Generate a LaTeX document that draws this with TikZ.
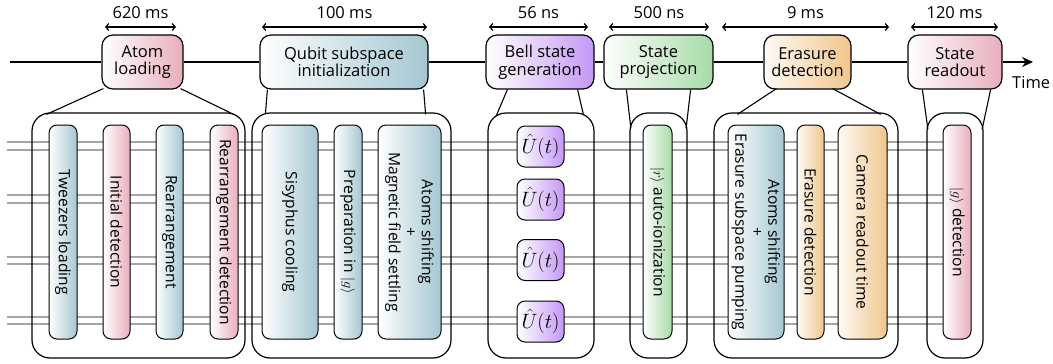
\documentclass[tikz,border=0pt]{standalone}
\usepackage{fontspec}
\setmainfont{Open Sans}
\usetikzlibrary{arrows.meta,calc}

\definecolor{pinkc}{RGB}{232,174,188}
\definecolor{bluec}{RGB}{164,199,210}
\definecolor{purpc}{RGB}{196,152,246}
\definecolor{greenc}{RGB}{166,219,166}
\definecolor{orangec}{RGB}{240,198,140}
\definecolor{wirec}{RGB}{165,165,165}

\tikzset{
  every node/.style={font=\fontsize{16.5}{17.5}\selectfont, inner sep=0pt},
  topbox/.style={draw, line width=1.2pt, rounded corners=11pt, align=center,
                 minimum height=54pt},
  panel/.style={draw, line width=1.2pt, rounded corners=18pt, minimum height=245pt},
  bar/.style={draw, line width=1pt, rounded corners=8pt, minimum height=214pt},
  ubox/.style={draw, line width=1pt, rounded corners=8pt, minimum width=47pt,
               minimum height=41pt, left color=white, right color=purpc},
  bartext/.style={rotate=-90, align=center, font=\fontsize{15.6}{16.5}\selectfont},
  wire/.style={draw=wirec, line width=1.1pt},
  link/.style={line width=1.1pt},
  dur/.style={line width=1.2pt,
     {Straight Barb[length=3pt,width=7pt]}-{Straight Barb[length=3pt,width=7pt]}},
}

\begin{document}
\begin{tikzpicture}[x=1pt,y=-1pt]
\useasboundingbox (0,0) rectangle (1053,364);

% qubit wires, in pairs
\foreach \ya/\yb in {142/150,195/203,257/264,317/324}{
  \draw[wire] (7,\ya) -- (950,\ya);
  \draw[wire] (7,\yb) -- (950,\yb);
}

% time axis end points
\coordinate (tl0) at (10,62);
\coordinate (tl1) at (1033,62);

% stage boxes on the time axis
\node[topbox, minimum width=81pt, left color=white, right color=pinkc]
  (A) at (142.5,62) {Atom\\loading};
\node[topbox, minimum width=168pt, left color=white, right color=bluec]
  (Q) at (344,62) {Qubit subspace\\initialization};
\node[topbox, minimum width=108pt, left color=white, right color=purpc]
  (B) at (540,62) {Bell state\\generation};
\node[topbox, minimum width=109pt, left color=white, right color=greenc]
  (S) at (658.5,62) {State\\projection};
\node[topbox, minimum width=87pt, left color=orangec!8, right color=orangec]
  (E) at (807.5,62) {Erasure\\detection};
\node[topbox, minimum width=94pt, left color=white, right color=pinkc]
  (R) at (955,62) {State\\readout};

% time axis
\draw[link] (tl0) -- (A.west);
\draw[link] (A.east) -- (Q.west);
\draw[link] (Q.east) -- (B.west);
\draw[link] (B.east) -- (S.west);
\draw[link] (S.east) -- (E.west);
\draw[link] (E.east) -- (R.west);
\draw[link, -{Stealth[length=11pt,width=10pt]}] (R.east) -- (tl1);
\node[anchor=west] (time) at (1012,83) {Time};

% durations
\foreach \n/\xa/\xb/\txt in {1/105/176/620 ms, 2/262/427/100 ms, 3/489/588/56 ns,
                             4/609/709/500 ns, 5/722/889/9 ms, 6/911/998/120 ms}{
  \coordinate (d\n a) at (\xa,27);
  \coordinate (d\n b) at (\xb,27);
  \draw[dur] (d\n a) -- (d\n b);
  \node (dl\n) at ($(d\n a)!0.5!(d\n b)+(0,-14)$) {\txt};
}

% detail panels
\node[panel, minimum width=213pt] (P1) at (138.5,235.5) {};
\node[panel, minimum width=199pt] (P2) at (351.5,235.5) {};
\node[panel, minimum width=106pt] (P3) at (541,235.5) {};
\node[panel, minimum width=57pt]  (P4) at (658.5,235.5) {};
\node[panel, minimum width=184pt] (P5) at (806,235.5) {};
\node[panel, minimum width=56pt]  (P6) at (955,235.5) {};

% zoom lines from stages to panels
\draw[link] ([shift={(2,-1)}]A.south west) -- ([shift={(15,2)}]P1.north west);
\draw[link] ([shift={(-3,-1)}]A.south east) -- ([shift={(-12,2)}]P1.north east);
\draw[link] ([shift={(8,0)}]Q.south west) -- ([shift={(14,2)}]P2.north west);
\draw[link] ([shift={(-5,0)}]Q.south east) -- ([shift={(-26,2)}]P2.north east);
\draw[link] ([shift={(22,0)}]B.south west) -- ([shift={(9,3)}]P3.north west);
\draw[link] ([shift={(-17,0)}]B.south east) -- ([shift={(-11,3)}]P3.north east);
\draw[link] ([shift={(23,0)}]S.south west) -- ([shift={(1.5,16)}]P4.north west);
\draw[link] ([shift={(-23,0)}]S.south east) -- ([shift={(-1.5,16)}]P4.north east);
\draw[link] ([shift={(13,-1)}]E.south west) -- ([shift={(24,2)}]P5.north west);
\draw[link] ([shift={(-19,-1)}]E.south east) -- ([shift={(-18,2)}]P5.north east);
\draw[link] ([shift={(15,0)}]R.south west) -- ([shift={(1.5,17)}]P6.north west);
\draw[link] ([shift={(-12,0)}]R.south east) -- ([shift={(-1.5,17)}]P6.north east);

% atom loading steps
\node[bar, minimum width=28pt, left color=white, right color=bluec] (a1) at (63,232) {};
\node[bar, minimum width=27pt, left color=white, right color=pinkc] (a2) at (116.5,232) {};
\node[bar, minimum width=27pt, left color=white, right color=bluec] (a3) at (169.5,232) {};
\node[bar, minimum width=28pt, left color=white, right color=pinkc] (a4) at (224,232) {};
\node[bartext] (ta1) at (a1.center) {Tweezers loading};
\node[bartext] (ta2) at (a2.center) {Initial detection};
\node[bartext] (ta3) at (a3.center) {Rearrangement};
\node[bartext] (ta4) at (a4.center) {Rearrangement detection};

% initialization steps
\node[bar, minimum width=56pt, left color=white, right color=bluec] (q1) at (290,232) {};
\node[bar, minimum width=28pt, left color=white, right color=bluec] (q2) at (348,232) {};
\node[bar, minimum width=63pt, left color=white, right color=bluec] (q3) at (409.5,232) {};
\node[bartext] (tq1) at (q1.center) {Sisyphus cooling};
\node[bartext] (tq2) at (q2.center) {Preparation in $|g\rangle$};
\node[bartext] (tq3) at (q3.center) {Atoms shifting\\+\\Magnetic field settling};

% entangling gates
\foreach \k/\yc in {1/146.5,2/199.5,3/260,4/321.5}{
  \node[ubox, font=\fontsize{22}{22}\selectfont] (u\k) at (540.5,\yc) {$\hat{U}(t)$};
}

% projection step
\node[bar, minimum width=29pt, left color=white, right color=greenc] (s1) at (657.5,232) {};
\node[bartext] (ts1) at (s1.center) {$|r\rangle$ auto-ionization};

% erasure detection steps
\node[bar, minimum width=56pt, left color=white, right color=bluec] (e1) at (756,232) {};
\node[bar, minimum width=27pt, left color=orangec!8, right color=orangec] (e2) at (810.5,232) {};
\node[bar, minimum width=49pt, left color=orangec!8, right color=orangec] (e3) at (862.5,232) {};
\node[bartext] (te1) at (e1.center) {Atoms shifting\\+\\Erasure subspace pumping};
\node[bartext] (te2) at (e2.center) {Erasure detection};
\node[bartext] (te3) at (e3.center) {Camera readout time};

% readout step
\node[bar, minimum width=28pt, left color=white, right color=pinkc] (r1) at (957,232) {};
\node[bartext] (tr1) at (r1.center) {$|g\rangle$ detection};
\end{tikzpicture}
\end{document}
